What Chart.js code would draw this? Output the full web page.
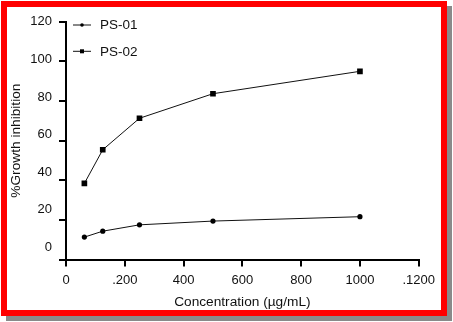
<!DOCTYPE html>
<html>
<head>
<meta charset="utf-8">
<script src="https://cdn.jsdelivr.net/npm/chart.js@4/dist/chart.umd.min.js"></script>
<style>
  html, body { margin: 0; padding: 0; background: #fff; }
  #frame {
    position: absolute; left: 1px; top: 1px;
    width: 434px; height: 303px;
    border: 6px solid #f00;
    box-shadow: 5px 5px 0 #8a8a8a;
    background: #fff;
  }
  #chart { display: block; }
</style>
</head>
<body>
<div id="frame"><canvas id="chart" width="434" height="303"></canvas></div>
<script>
// concentrations (µg/mL)
const concentrations = [62.5, 125, 250, 500, 1000];
const ps01 = [11.3, 14.3, 17.5, 19.4, 21.6];
const ps02 = [38.4, 55.4, 71.3, 83.7, 95.0];
const seriesNames = ['PS-01', 'PS-02'];

const xTicks = [0, 200, 400, 600, 800, 1000, 1200];
const xTickLabels = ['0', '.200', '400', '600', '800', '1000', '.1200'];
const yTicks = [0, 20, 40, 60, 80, 100, 120];

const family = '"Liberation Sans", Arial, sans-serif';
const font = { family: family, size: 13 };
const titleFont = { family: family, size: 13.7 };

const toPoints = (vals) => concentrations.map((c, i) => ({ x: c, y: vals[i] }));

// little legend in the top-left corner of the plot, line + marker + name
const cornerLegend = {
  id: 'cornerLegend',
  afterDraw(chart) {
    const ctx = chart.ctx;
    ctx.save();
    chart.data.datasets.forEach((ds, i) => {
      const y = 18 + i * 26.3;
      ctx.strokeStyle = '#111';
      ctx.lineWidth = 1;
      ctx.beginPath();
      ctx.moveTo(66, y);
      ctx.lineTo(84, y);
      ctx.stroke();
      ctx.fillStyle = '#000';
      if (ds.pointStyle === 'rect') {
        ctx.fillRect(73, y - 2, 4, 4);
      } else {
        ctx.beginPath();
        ctx.arc(75, y, 1.8, 0, Math.PI * 2);
        ctx.fill();
      }
      ctx.font = '13.5px ' + family;
      ctx.textBaseline = 'middle';
      ctx.fillStyle = '#111';
      ctx.fillText(ds.label, 93, y + 0.5);
    });
    ctx.restore();
  }
};

new Chart(document.getElementById('chart'), {
  type: 'line',
  data: {
    datasets: [{
      label: seriesNames[0],
      data: toPoints(ps01),
      borderColor: '#111',
      borderWidth: 1,
      pointStyle: 'circle',
      pointRadius: 2.6,
      pointBackgroundColor: '#000',
      pointBorderWidth: 0,
      tension: 0
    }, {
      label: seriesNames[1],
      data: toPoints(ps02),
      borderColor: '#111',
      borderWidth: 1,
      pointStyle: 'rect',
      pointRadius: 4,
      pointBackgroundColor: '#000',
      pointBorderWidth: 0,
      tension: 0
    }]
  },
  options: {
    responsive: false,
    animation: false,
    layout: { padding: { left: 0, right: 18, top: 11.3, bottom: 0 } },
    plugins: { legend: { display: false }, tooltip: { enabled: false } },
    scales: {
      x: {
        type: 'linear',
        min: 0,
        max: 1200,
        afterBuildTicks: (axis) => { axis.ticks = xTicks.map(v => ({ value: v })); },
        afterFit: (axis) => { axis.height = 50.5; },
        ticks: {
          font: font,
          color: '#111',
          padding: 6,
          maxRotation: 0,
          callback: (v) => xTickLabels[xTicks.indexOf(v)]
        },
        grid: { drawOnChartArea: false, tickLength: 7, color: '#000', lineWidth: 2 },
        border: { color: '#000', width: 2 },
        title: {
          display: true,
          text: 'Concentration (µg/mL)',
          font: titleFont,
          color: '#111',
          padding: { top: 0, bottom: 0 }
        }
      },
      y: {
        position: 'left',
        weight: 0,
        min: 0,
        max: 120,
        afterBuildTicks: (axis) => { axis.ticks = yTicks.map(v => ({ value: v })); },
        afterFit: (axis) => { axis.width = 7; },
        ticks: { display: false },
        grid: { drawOnChartArea: false, tickLength: 7, color: '#000', lineWidth: 2 },
        border: { color: '#000', width: 2 }
      },
      yLabels: {
        position: 'left',
        weight: 1,
        min: -6.56,
        max: 120,
        afterBuildTicks: (axis) => { axis.ticks = yTicks.map(v => ({ value: v })); },
        afterFit: (axis) => { axis.width = 52; },
        ticks: { font: font, color: '#111', padding: 7 },
        grid: { display: false, drawTicks: false },
        border: { display: false },
        title: {
          display: true,
          text: '%Growth inhibition',
          font: titleFont,
          color: '#111',
          padding: { top: 1, bottom: 0 }
        }
      }
    }
  },
  plugins: [cornerLegend]
});
</script>
</body>
</html>
